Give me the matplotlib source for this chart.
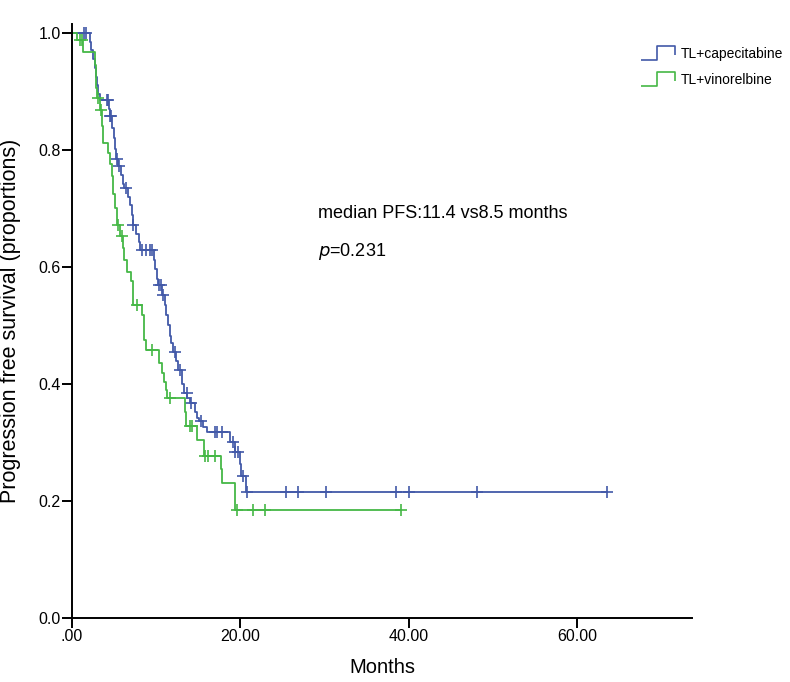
import numpy as np
import matplotlib.pyplot as plt
from matplotlib.path import Path
from matplotlib.lines import Line2D

plt.rcParams['font.family'] = ['Liberation Sans', 'DejaVu Sans']

# - Kaplan-Meier data - #
cap_step_t = [2.1, 2.3, 2.5, 2.7, 2.9, 3.0, 3.1, 3.3, 4.4, 4.5, 4.8, 5.0, 5.1, 5.2,
              5.5, 5.8, 6.1, 6.2, 6.6, 6.9, 7.1, 7.2, 7.6, 7.9, 8.1, 9.7, 9.9, 10.1,
              10.2, 10.7, 11.0, 11.2, 11.4, 11.6, 11.8, 12.0, 12.4, 12.6, 13.0, 13.3,
              13.7, 14.0, 14.6, 14.8, 15.1, 15.5, 16.0, 18.7, 19.3, 20.0, 20.1, 20.7]
cap_step_s = [0.985, 0.970, 0.955, 0.940, 0.925, 0.910, 0.895, 0.885, 0.870, 0.857,
              0.838, 0.820, 0.802, 0.785, 0.772, 0.757, 0.742, 0.735, 0.720, 0.705,
              0.688, 0.672, 0.656, 0.642, 0.628, 0.612, 0.596, 0.580, 0.569, 0.552,
              0.535, 0.518, 0.500, 0.482, 0.470, 0.455, 0.440, 0.424, 0.400, 0.384,
              0.376, 0.368, 0.352, 0.342, 0.337, 0.327, 0.317, 0.301, 0.283, 0.263,
              0.243, 0.215]
cap_cens = [1.4, 1.7, 4.1, 4.3, 4.5, 4.6, 5.3, 5.6, 6.4, 7.3, 8.3, 8.8, 9.2, 9.5,
            10.3, 10.6, 10.8, 12.2, 12.8, 13.6, 14.1, 15.3, 17.0, 17.2, 17.8, 19.1,
            19.4, 19.7, 20.3, 20.8, 25.4, 26.8, 30.2, 38.5, 40.0, 48.1, 63.5]

vin_step_t = [0.6, 1.3, 2.7, 2.8, 2.9, 3.0, 3.3, 3.6, 3.7, 4.3, 4.5, 4.7, 4.9, 5.1,
              5.3, 5.7, 6.0, 6.2, 6.5, 7.0, 7.2, 7.3, 8.3, 8.5, 8.6, 8.8, 10.3, 10.7,
              10.9, 11.1, 11.3, 13.4, 13.5, 14.8, 15.7, 17.7, 17.8, 19.4]
vin_step_s = [0.988, 0.968, 0.945, 0.925, 0.905, 0.888, 0.868, 0.840, 0.812, 0.794,
              0.775, 0.755, 0.725, 0.700, 0.672, 0.652, 0.632, 0.612, 0.592, 0.575,
              0.555, 0.535, 0.518, 0.495, 0.475, 0.458, 0.435, 0.418, 0.404, 0.390,
              0.376, 0.352, 0.328, 0.304, 0.277, 0.254, 0.230, 0.185]
vin_cens = [0.95, 1.15, 3.1, 3.4, 5.5, 5.9, 7.7, 9.5, 11.6, 14.0, 14.3, 15.8, 16.2,
            17.0, 19.6, 21.5, 22.9, 39.1]

labels = ['TL+capecitabine', 'TL+vinorelbine']
colors = ['#4259a8', '#45b846']

x_ticks = [0, 20, 40, 60]
x_ticklabels = ['.00', '20.00', '40.00', '60.00']
y_ticks = [0.0, 0.2, 0.4, 0.6, 0.8, 1.0]

# - Figure and Axes - #
fig = plt.figure(figsize=(7.9, 6.82), dpi=100)
ax = fig.add_axes([72/790, 1 - 618/682, 620/790, 594/682])
ax.set_xlim(0, 73.6); ax.set_ylim(0, 1.015)


def km_curve(ax, step_t, step_s, cens, color):
    step_t = np.asarray(step_t); step_s = np.asarray(step_s)
    t_end = max(max(cens), step_t[-1])
    t = np.concatenate([[0.0], step_t, [t_end]])
    s = np.concatenate([[1.0], step_s, [step_s[-1]]])
    ax.step(t, s, where='post', color=color, lw=1.3)
    idx = np.searchsorted(step_t, cens, side='right')
    levels = np.concatenate([[1.0], step_s])[idx]
    ax.plot(cens, levels, ls='none', marker='+', ms=8, mew=1.2, color=color)


km_curve(ax, cap_step_t, cap_step_s, cap_cens, colors[0])
km_curve(ax, vin_step_t, vin_step_s, vin_cens, colors[1])

# - Axes styling - #
for side in ['top', 'right']:
    ax.spines[side].set_visible(False)
for side in ['left', 'bottom']:
    ax.spines[side].set_linewidth(1.4)
ax.set_xticks(x_ticks); ax.set_xticklabels(x_ticklabels)
ax.set_yticks(y_ticks); ax.set_yticklabels([f'{v:.1f}' for v in y_ticks])
ax.tick_params(direction='out', length=7, width=1.4, labelsize=11.5, pad=1)
ax.set_xlabel('Months', fontsize=14.5, labelpad=10)
ax.set_ylabel('Progression free survival (proportions)', fontsize=15.5)
ax.yaxis.set_label_coords(-0.083, 0.5)

# - Annotations - #
ax.text(29.2, 0.692, 'median PFS:11.4 vs8.5 months', fontsize=13, va='center')
ax.text(29.2, 0.626, r'$\it{p}$=0.231', fontsize=13, va='center')

# - Legend with step-shaped handles - #
step_marker = Path([(-1.0, -0.4), (-0.05, -0.4), (-0.05, 0.4), (1.0, 0.4), (1.0, -0.1)])
handles = [Line2D([], [], ls='none', marker=step_marker, ms=24, mew=1.2,
                  mfc='none', mec=c) for c in colors]
fig.legend(handles, labels, loc='upper left', bbox_to_anchor=(645/790, 1 - 47/682),
           frameon=False, fontsize=10, handlelength=1.8, handletextpad=0.8,
           labelspacing=0.85, borderaxespad=0, borderpad=0)

fig.savefig('out.png', dpi=100)
